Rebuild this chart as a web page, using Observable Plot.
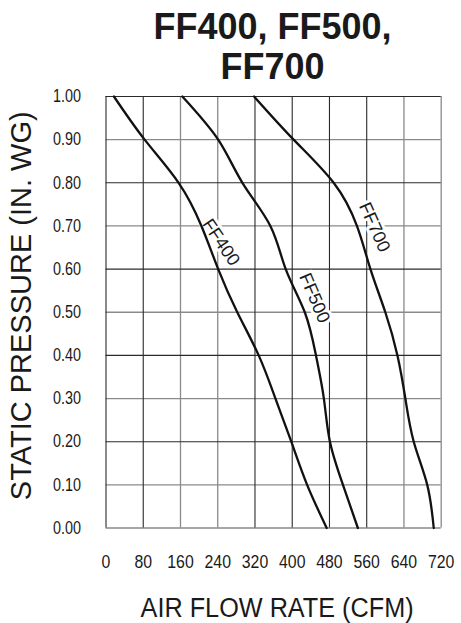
<!DOCTYPE html>
<html>
<head>
<meta charset="utf-8">
<script src="https://cdn.jsdelivr.net/npm/d3@7"></script>
<script src="https://cdn.jsdelivr.net/npm/@observablehq/plot@0.6"></script>
<style>
  html, body { margin: 0; padding: 0; background: #fff; }
  body { width: 461px; height: 623px; overflow: hidden; font-family: "Liberation Sans", Arial, sans-serif; }
  #title { position: relative; z-index: 1; height: 70px; overflow: visible; box-sizing: border-box;
           padding-left: 84px; padding-top: 7px; text-align: center;
           font-weight: bold; font-size: 36px; line-height: 40px; color: #1a1a1a; }
  #chart svg { display: block; }
</style>
</head>
<body>
<div id="title">FF400, FF500,<br>FF700</div>
<div id="chart"></div>
<script>
const xTicks = [0, 80, 160, 240, 320, 400, 480, 560, 640, 720];
const yTicks = [0, 0.1, 0.2, 0.3, 0.4, 0.5, 0.6, 0.7, 0.8, 0.9, 1.0];
const xGridDark = [0, 80, 320, 400, 480, 560];
const xGridLight = [160, 240, 640, 720];
const yGridDark = [1.0, 0.8, 0.6, 0.4, 0.2];
const yGridLight = [0.9, 0.7, 0.5, 0.3, 0.1, 0.0];

const ff400Cfm = [17, 83, 156, 205, 241, 282, 328, 364, 398, 432, 474];
const ff400Pressure = [1.0, 0.9, 0.8, 0.7, 0.6, 0.5, 0.4, 0.3, 0.2, 0.1, 0.0];
const ff500Cfm = [164, 241, 293, 353, 386, 427, 451, 468, 481, 509, 541];
const ff500Pressure = [1.0, 0.9, 0.8, 0.7, 0.6, 0.5, 0.4, 0.3, 0.2, 0.1, 0.0];
const ff700Cfm = [318, 403, 489, 539, 568, 600, 626, 643, 661, 690, 704];
const ff700Pressure = [1.0, 0.9, 0.8, 0.7, 0.6, 0.5, 0.4, 0.3, 0.2, 0.1, 0.0];

const labelNames = ["FF400", "FF500", "FF700"];
const labelCfm = [247, 448, 577];
const labelPressure = [0.662, 0.533, 0.697];
const labelAngle = [56, 67, 66];

const xTitle = "AIR FLOW RATE (CFM)";
const yTitle = "STATIC PRESSURE (IN. WG)";

const series = [
  {name: "FF400", cfm: ff400Cfm, p: ff400Pressure},
  {name: "FF500", cfm: ff500Cfm, p: ff500Pressure},
  {name: "FF700", cfm: ff700Cfm, p: ff700Pressure}
];
const rows = series.flatMap(s => s.cfm.map((c, i) => ({series: s.name, cfm: c, p: s.p[i]})));
const labels = labelNames.map((n, i) => ({name: n, cfm: labelCfm[i], p: labelPressure[i], a: labelAngle[i]}));

const chart = Plot.plot({
  width: 461,
  height: 553,
  marginLeft: 105.5,
  marginRight: 20.3,
  marginTop: 26,
  marginBottom: 95.5,
  style: {fontFamily: "Liberation Sans, Arial, sans-serif", color: "#1a1a1a", background: "transparent", overflow: "visible"},
  x: {domain: [0, 720]},
  y: {domain: [0, 1]},
  marks: [
    Plot.ruleX(xGridLight, {stroke: "#8a8a8a", strokeWidth: 1.3}),
    Plot.ruleY(yGridLight, {stroke: "#8a8a8a", strokeWidth: 1.3}),
    Plot.ruleX(xGridDark, {stroke: "#2a2a2a", strokeWidth: 1.1}),
    Plot.ruleY(yGridDark, {stroke: "#2a2a2a", strokeWidth: 1.1}),
    Plot.axisX({ticks: xTicks, tickSize: 0, tickPadding: 27, fontSize: 18, label: null, tickFormat: d => String(d)}),
    Plot.axisY({ticks: yTicks, tickSize: 0, tickPadding: 25, fontSize: 18, label: null, tickFormat: d3.format(".2f")}),
    Plot.text(labels, {x: "cfm", y: "p", text: "name", rotate: "a", fontSize: 18, fill: "#1a1a1a",
      stroke: "white", strokeWidth: 6}),
    Plot.line(rows, {x: "cfm", y: "p", z: "series", stroke: "#111", strokeWidth: 2.3, curve: "natural"}),
    Plot.text([xTitle], {frameAnchor: "bottom", dx: 3.5, dy: 80.5, fontSize: 27, lineAnchor: "middle", fill: "#1a1a1a"}),
    Plot.text([yTitle], {frameAnchor: "left", dx: -84, dy: -6.5, rotate: -90, fontSize: 29, textAnchor: "middle", lineAnchor: "middle", fill: "#1a1a1a"})
  ]
});
document.getElementById("chart").appendChild(chart);

// tick labels: larger, horizontally condensed (narrow face of the original), scaled about their anchor point
function condense(sel, ratio, size) {
  const g = chart.querySelector(sel);
  if (!g) return;
  g.setAttribute("font-size", size);
  g.style.fontSize = size + "px";
  g.querySelectorAll("text").forEach(t => {
    t.style.fontSize = size + "px";
    const X = parseFloat(t.getAttribute("x")) || 0;
    const prev = t.getAttribute("transform") || "";
    t.setAttribute("transform", `${prev} translate(${X},0) scale(${ratio},1) translate(${-X},0)`.trim());
  });
}
condense('g[aria-label="x-axis tick label"]', 0.88, 18);
condense('g[aria-label="y-axis tick label"]', 0.8, 18);
chart.querySelectorAll('g[aria-label="text"] text').forEach(t => {
  if (t.textContent === xTitle) {
    t.setAttribute("textLength", "273");
    t.setAttribute("lengthAdjust", "spacingAndGlyphs");
  }
});
</script>
</body>
</html>
